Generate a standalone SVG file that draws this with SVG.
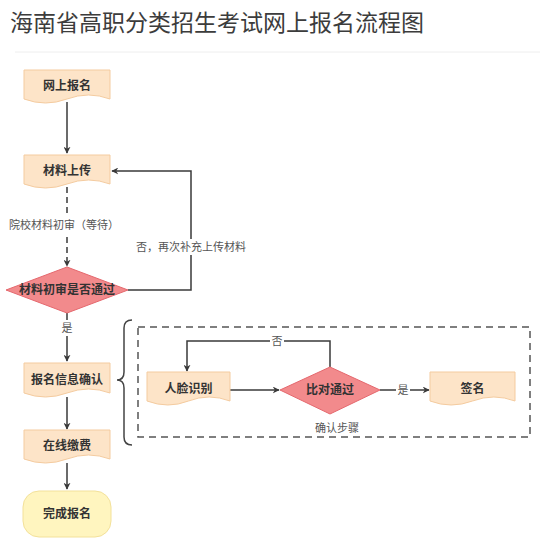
<svg xmlns="http://www.w3.org/2000/svg" width="540" height="549" viewBox="0 0 540 549">
<style>
.doc{fill:#fde4c8;stroke:#f4cb9f;stroke-width:1}
.dia{fill:#f28a8c;stroke:#e5686e;stroke-width:1}
.nt{font-family:"Liberation Sans","Noto Sans CJK SC",sans-serif;font-size:12px;font-weight:bold;fill:#333;text-anchor:middle;dominant-baseline:central}
.lb{font-family:"Liberation Sans","Noto Sans CJK SC",sans-serif;font-size:11px;fill:#555;text-anchor:middle;dominant-baseline:central}
.ln{fill:none;stroke:#3a3a3a;stroke-width:1.5}
</style>
<defs>
<marker id="ah" viewBox="0 0 10 10" refX="9" refY="5" markerWidth="7" markerHeight="7" orient="auto" markerUnits="userSpaceOnUse">
<path d="M0,0 L10,5 L0,10 L3,5 Z" fill="#3a3a3a"/>
</marker>
</defs>
<rect width="540" height="549" fill="#fff"/>
<text x="10" y="31" font-family="'Noto Sans CJK SC','Liberation Sans',sans-serif" font-size="23" fill="#3c3c3c">海南省高职分类招生考试网上报名流程图</text>
<line x1="15" y1="52" x2="540" y2="52" stroke="#eeeeee" stroke-width="1"/>

<g id="connectors">
<line class="ln" x1="67" y1="102" x2="67" y2="153" marker-end="url(#ah)"/>
<line class="ln" x1="67" y1="187" x2="67" y2="266" stroke-dasharray="6 4" marker-end="url(#ah)"/>
<rect x="8" y="217" width="112" height="16" fill="#fff"/>
<text class="lb" x="64" y="225">院校材料初审（等待）</text>
<polyline class="ln" points="128,290 191,290 191,171 112,171" marker-end="url(#ah)"/>
<rect x="131" y="239" width="120" height="16" fill="#fff"/>
<text class="lb" x="191" y="247">否，再次补充上传材料</text>
<line class="ln" x1="67" y1="313" x2="67" y2="361" marker-end="url(#ah)"/>
<rect x="60" y="320" width="14" height="16" fill="#fff"/>
<text class="lb" x="67" y="328">是</text>
<line class="ln" x1="67" y1="397" x2="67" y2="429" marker-end="url(#ah)"/>
<line class="ln" x1="67" y1="463" x2="67" y2="489" marker-end="url(#ah)"/>
<line class="ln" x1="230" y1="390" x2="279" y2="390" marker-end="url(#ah)"/>
<polyline class="ln" points="330,367 330,341 187,341 187,371" marker-end="url(#ah)"/>
<rect x="270" y="334" width="14" height="14" fill="#fff"/>
<text class="lb" x="277" y="341">否</text>
<line class="ln" x1="380" y1="390" x2="429" y2="390" marker-end="url(#ah)"/>
<rect x="396" y="383" width="14" height="14" fill="#fff"/>
<text class="lb" x="403" y="390">是</text>
<path d="M132,320 Q124,320 124,328 V372 Q124,380 117,380 Q124,380 124,388 V437 Q124,445 132,445" fill="none" stroke="#444" stroke-width="1.5"/>
<rect x="138" y="327" width="392" height="110" fill="none" stroke="#555" stroke-width="1.5" stroke-dasharray="7 5"/>
<text class="lb" x="337" y="428">确认步骤</text>
</g>

<g id="n1"><path class="doc" d="M24,70 H110 V99 Q88.5,91 67,99 Q45.5,107 24,99 Z"/><text class="nt" x="67" y="86">网上报名</text></g>
<g id="n2"><path class="doc" d="M24,155 H110 V184 Q88.5,176 67,184 Q45.5,192 24,184 Z"/><text class="nt" x="67" y="171">材料上传</text></g>
<g id="n3"><polygon class="dia" points="67,267 128,290 67,313 6,290"/><text class="nt" x="67" y="290">材料初审是否通过</text></g>
<g id="n4"><path class="doc" d="M24,363 H110 V393 Q88.5,385 67,393 Q45.5,401 24,393 Z"/><text class="nt" x="67" y="380">报名信息确认</text></g>
<g id="n5"><path class="doc" d="M24,430 H110 V459 Q88.5,451 67,459 Q45.5,467 24,459 Z"/><text class="nt" x="67" y="446">在线缴费</text></g>
<g id="n6"><rect x="23" y="491" width="88" height="46" rx="16" ry="16" fill="#fff5bf" stroke="#f3e19a" stroke-width="1"/><text class="nt" x="67" y="514">完成报名</text></g>
<g id="n7"><path class="doc" d="M147,372 H230 V401 Q209,393 188.5,401 Q168,409 147,401 Z"/><text class="nt" x="188.5" y="389">人脸识别</text></g>
<g id="n8"><polygon class="dia" points="330,367 380,390 330,414 280,390"/><text class="nt" x="330" y="390">比对通过</text></g>
<g id="n9"><path class="doc" d="M430,372 H515 V401 Q494,393 472.5,401 Q451,409 430,401 Z"/><text class="nt" x="472.5" y="389">签名</text></g>
</svg>
